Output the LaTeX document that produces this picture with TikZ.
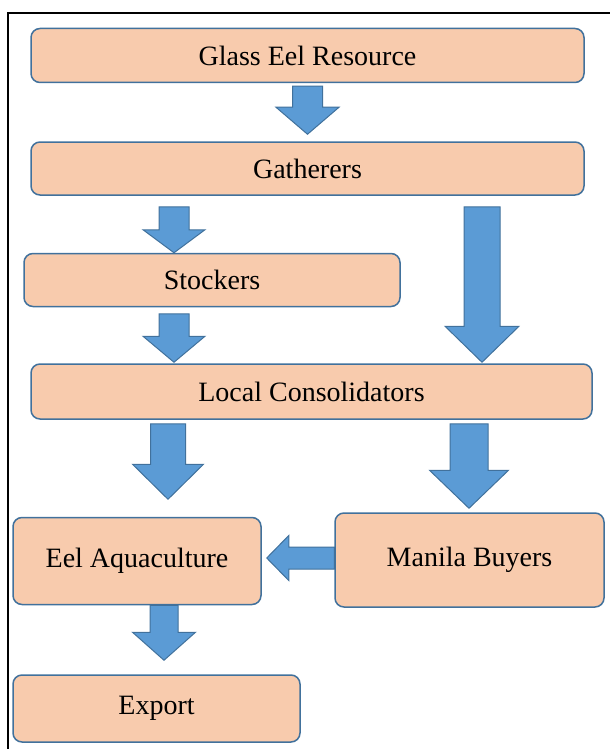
\documentclass[tikz,border=0pt]{standalone}
\usepackage{fontspec}
\setmainfont{Liberation Serif}
\usetikzlibrary{calc}

% Block arrow: start, tip, shaft half width, head half width, head length
\newcommand{\blockArrow}[5]{%
    \path (#1) coordinate (baStart) (#2) coordinate (baEnd);
    \path ($(baEnd)!#5pt!(baStart)$) coordinate (baHead);
    \draw[flowArrow] ($(baStart)!#3pt!90:(baEnd)$) -- ($(baHead)!#3pt!90:(baEnd)$)
        -- ($(baHead)!#4pt!90:(baEnd)$) -- (baEnd) -- ($(baHead)!#4pt!-90:(baEnd)$)
        -- ($(baHead)!#3pt!-90:(baEnd)$) -- ($(baStart)!#3pt!-90:(baEnd)$) -- cycle;
}

\begin{document}
\begin{tikzpicture}[x=1pt, y=-1pt,
    box/.style={draw=boxBorder, fill=boxFill, line width=1.5pt, rounded corners=9pt,
        inner sep=0pt, font=\fontsize{28}{32}\selectfont},
    flowArrow/.style={draw=arrowBorder, fill=arrowFill, line width=1pt}]

    \definecolor{boxFill}{HTML}{F8CBAD}
    \definecolor{boxBorder}{HTML}{41719C}
    \definecolor{arrowFill}{HTML}{5B9BD5}
    \definecolor{arrowBorder}{HTML}{41719C}

    \useasboundingbox (0,0) rectangle (610,749);

    % Frame
    \draw[line width=1.3pt] (8,749) -- (8,13) -- (610,13);

    % Boxes
    \node[box, minimum width=553pt, minimum height=54pt] (glass) at (307.5,55.5) {Glass Eel Resource};
    \node[box, minimum width=553pt, minimum height=53pt] (gather) at (307.5,168.5) {Gatherers};
    \node[box, minimum width=376pt, minimum height=53pt] (stock) at (212,280) {Stockers};
    \node[box, minimum width=561pt, minimum height=55pt] (cons) at (311.5,391.5) {Local Consolidators};
    \node[box, minimum width=248pt, minimum height=87pt] (aqua) at (137,561) {Eel Aquaculture};
    \node[box, minimum width=269pt, minimum height=94pt] (buyers) at (469.5,560) {Manila Buyers};
    \node[box, minimum width=287pt, minimum height=67pt] (export) at (156.5,708.5) {Export};

    % Arrows
    \blockArrow{[yshift=-3pt]glass.south}{[yshift=7pt]gather.north}{15}{31.5}{27}
    \blockArrow{[xshift=-133.5pt,yshift=-11pt]gather.south}{[xshift=-38pt]stock.north}{15}{31}{23}
    \blockArrow{[xshift=-38pt,yshift=-6.5pt]stock.south}{[xshift=-137.5pt,yshift=1pt]cons.north}{15}{31}{26}
    \blockArrow{[xshift=174.5pt,yshift=-11pt]gather.south}{[xshift=170.5pt,yshift=1pt]cons.north}{18}{37}{36}
    \blockArrow{[xshift=-143.5pt,yshift=-4pt]cons.south}{[xshift=31pt,yshift=17.5pt]aqua.north}{17.5}{35.5}{35}
    \blockArrow{[xshift=157.5pt,yshift=-4pt]cons.south}{[xshift=-0.5pt,yshift=4pt]buyers.north}{19}{39.5}{38}
    \blockArrow{[yshift=2pt]buyers.west}{[xshift=5pt,yshift=3pt]aqua.east}{11}{22.5}{22}
    \blockArrow{[xshift=27pt]aqua.south}{[xshift=7.5pt,yshift=14pt]export.north}{14}{31.5}{28}

\end{tikzpicture}
\end{document}
